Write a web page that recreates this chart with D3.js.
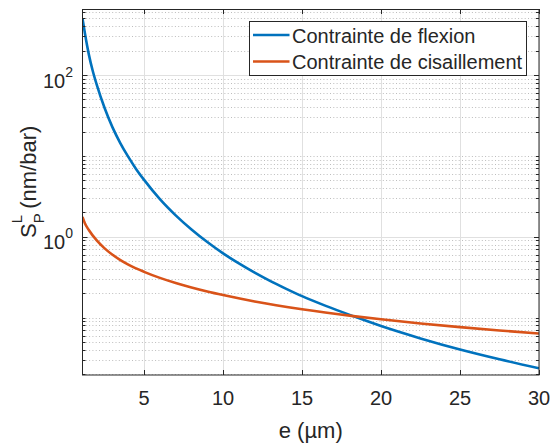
<!DOCTYPE html>
<html>
<head>
<meta charset="utf-8">
<script src="https://cdn.jsdelivr.net/npm/d3@7"></script>
<style>
  html, body { margin: 0; padding: 0; background: #fff; }
  svg { display: block; font-family: "Liberation Sans", Arial, Helvetica, sans-serif; }
</style>
</head>
<body>
<svg id="chart" width="552" height="445"></svg>
<script>
// ---- data ----
const seriesNames = ["Contrainte de flexion", "Contrainte de cisaillement"];
const seriesColors = ["#0072BD", "#D95319"];
const eFlexion = [1.1, 1.25, 1.5, 1.75, 2, 2.5, 3, 3.5, 4, 4.5, 5, 6, 7, 8, 9, 10, 11, 12, 13, 14, 15, 16.5, 18.25, 20, 22.5, 25, 27.5, 30];
const flexion  = [500, 330, 180, 112, 76, 39, 22.5, 14.3, 9.7, 6.85, 5.05, 2.92, 1.84, 1.23, 0.86, 0.623, 0.468, 0.36, 0.283, 0.227, 0.184, 0.1395, 0.104, 0.0786, 0.0553, 0.0403, 0.0305, 0.0236];
const eCisail   = [1.1, 1.25, 1.5, 2, 2.5, 3, 3.5, 4, 5, 6, 7, 8, 9, 10, 12, 15, 18.25, 20, 22.5, 25, 27.5, 30];
const cisail    = [1.76, 1.47, 1.21, 0.90, 0.718, 0.598, 0.514, 0.452, 0.368, 0.310, 0.268, 0.236, 0.2105, 0.19, 0.1583, 0.1267, 0.1043, 0.0952, 0.0847, 0.0762, 0.0693, 0.0636];
const xTicks = [5, 10, 15, 20, 25, 30];
const yMajorTicks = [1, 100];
const yMajorExp = ["0", "2"];
const xDomain = [1.1, 30];
const yDomain = [0.0195, 655];

// ---- layout ----
const L = 82.5, R = 539, T = 9, B = 375;
const axisColor = "#262626";
const svg = d3.select("#chart");
const x = d3.scaleLinear().domain(xDomain).range([L, R]);
const y = d3.scaleLog().domain(yDomain).range([B, T]);

// minor y values (2..9 x 10^k) inside domain
const yMinor = [];
for (let k = -2; k <= 2; k++) {
  for (let m = 1; m <= 9; m++) {
    const v = m * Math.pow(10, k);
    if (v >= yDomain[0] && v <= yDomain[1] && !yMajorTicks.includes(v)) yMinor.push(v);
  }
}

// grid: minor dotted
const grid = svg.append("g");
grid.selectAll("line.ymin").data(yMinor).join("line")
  .attr("x1", L).attr("x2", R)
  .attr("y1", d => Math.round(y(d)) + 0.5).attr("y2", d => Math.round(y(d)) + 0.5)
  .attr("stroke", "#bdbdbd").attr("stroke-width", 1).attr("stroke-dasharray", "1,2.3");
// grid: major solid
grid.selectAll("line.xmaj").data(xTicks).join("line")
  .attr("x1", d => Math.round(x(d)) + 0.5).attr("x2", d => Math.round(x(d)) + 0.5)
  .attr("y1", T).attr("y2", B)
  .attr("stroke", "#e0e0e0").attr("stroke-width", 1);
svg.append("g").selectAll("line").data(yMajorTicks).join("line")
  .attr("x1", L).attr("x2", R)
  .attr("y1", d => Math.round(y(d)) + 0.5).attr("y2", d => Math.round(y(d)) + 0.5)
  .attr("stroke", "#e0e0e0").attr("stroke-width", 1);

// curves
svg.append("clipPath").attr("id", "clip").append("rect")
  .attr("x", L).attr("y", T).attr("width", R - L).attr("height", B - T);
const mk = d3.line().x(d => x(d[0])).y(d => y(d[1])).curve(d3.curveMonotoneX);
const curves = [
  eFlexion.map((e, i) => [e, flexion[i]]),
  eCisail.map((e, i) => [e, cisail[i]])
];
svg.append("g").attr("clip-path", "url(#clip)")
  .selectAll("path").data(curves).join("path")
  .attr("d", mk).attr("fill", "none")
  .attr("stroke", (d, i) => seriesColors[i]).attr("stroke-width", 2.6)
  .attr("stroke-linejoin", "round");

// axes box
svg.append("rect").attr("x", L).attr("y", T + 0.5).attr("width", R - L).attr("height", B - T - 0.5)
  .attr("fill", "none").attr("stroke", axisColor).attr("stroke-width", 1);

// ticks (inward), x bottom & top
const ax = svg.append("g").attr("stroke", axisColor).attr("stroke-width", 1);
xTicks.forEach(t => {
  const px = Math.round(x(t)) + 0.5;
  ax.append("line").attr("x1", px).attr("x2", px).attr("y1", B).attr("y2", B - 5);
  ax.append("line").attr("x1", px).attr("x2", px).attr("y1", T).attr("y2", T + 5);
});
yMajorTicks.forEach(t => {
  const py = Math.round(y(t)) + 0.5;
  ax.append("line").attr("x1", L).attr("x2", L + 5).attr("y1", py).attr("y2", py);
  ax.append("line").attr("x1", R).attr("x2", R - 5).attr("y1", py).attr("y2", py);
});
yMinor.forEach(t => {
  const py = Math.round(y(t)) + 0.5;
  ax.append("line").attr("x1", L).attr("x2", L + 3).attr("y1", py).attr("y2", py);
  ax.append("line").attr("x1", R).attr("x2", R - 3).attr("y1", py).attr("y2", py);
});

// x tick labels
svg.append("g").selectAll("text").data(xTicks).join("text")
  .attr("x", d => x(d)).attr("y", 405)
  .attr("text-anchor", "middle").attr("font-size", 20).attr("fill", axisColor)
  .text(d => d);

// y tick labels 10^k
yMajorTicks.forEach((t, i) => {
  const tx = svg.append("text")
    .attr("x", 73).attr("y", y(t) + 12.5)
    .attr("text-anchor", "end").attr("font-size", 20).attr("fill", axisColor);
  tx.append("tspan").text("10");
  tx.append("tspan").attr("font-size", 14).attr("dy", -11).text(yMajorExp[i]);
});

// x label
svg.append("text").attr("x", (L + R) / 2).attr("y", 438)
  .attr("text-anchor", "middle").attr("font-size", 22).attr("fill", axisColor)
  .text("e (µm)");

// y label: S_P^L (nm/bar)
const yl = svg.append("text")
  .attr("transform", "translate(35.5,238) rotate(-90)")
  .attr("text-anchor", "start").attr("font-size", 22).attr("fill", axisColor);
yl.append("tspan").text("S");
yl.append("tspan").attr("font-size", 15).attr("dy", 8).text("P");
yl.append("tspan").attr("font-size", 15).attr("dx", -10).attr("dy", -22).text("L");
yl.append("tspan").attr("dy", 14).text(" (nm/bar)");

// legend
const lg = svg.append("g");
lg.append("rect").attr("x", 249.5).attr("y", 21.5).attr("width", 277).attr("height", 54)
  .attr("fill", "#fff").attr("stroke", axisColor).attr("stroke-width", 1);
const rowsY = [35, 61.5];
seriesNames.forEach((n, i) => {
  lg.append("line").attr("x1", 253).attr("x2", 289.5).attr("y1", rowsY[i]).attr("y2", rowsY[i])
    .attr("stroke", seriesColors[i]).attr("stroke-width", 2.6);
  lg.append("text").attr("x", 292).attr("y", rowsY[i] + 7.5)
    .attr("font-size", 20).attr("fill", axisColor).text(n);
});
</script>
</body>
</html>
